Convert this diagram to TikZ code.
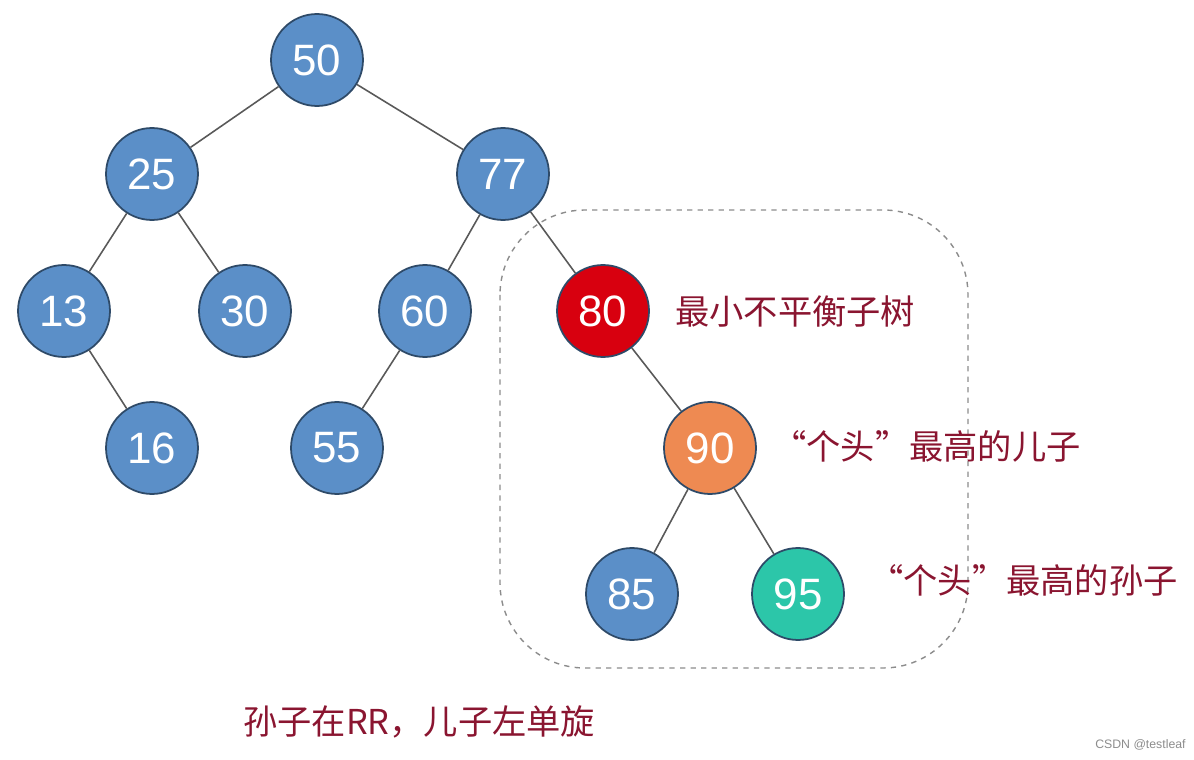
\documentclass[tikz,border=0pt]{standalone}
\usepackage{fontspec}
\setmainfont{Liberation Sans}
\newfontfamily\cjk{Noto Sans CJK SC}
\definecolor{nodeblue}{HTML}{5B8FC8}
\definecolor{nodeline}{HTML}{2E4A68}
\definecolor{nodered}{HTML}{D8000F}
\definecolor{nodeorange}{HTML}{EE8A52}
\definecolor{nodeteal}{HTML}{2CC6A9}
\definecolor{labelred}{HTML}{8A1530}
\begin{document}
\begin{tikzpicture}[
    x=0.02cm, y=-0.02cm,
    key/.style={circle, draw=nodeline, fill=nodeblue, line width=1pt, minimum size=1.84cm, inner sep=0pt, text=white, font=\fontsize{25}{30}\selectfont},
    unbal/.style={key, fill=nodered},
    son/.style={key, fill=nodeorange},
    grandson/.style={key, fill=nodeteal},
    edge/.style={draw=black!65, line width=0.9pt},
    note/.style={text=labelred, font=\cjk\fontsize{19.5}{24}\selectfont, anchor=west, inner sep=0pt}
]
    \useasboundingbox (0,0) rectangle (1194,760);
    \draw[black!45, dashed, line width=0.8pt, rounded corners=1.7cm] (500,210) rectangle (968,668);

    \node[key] (n50) at (317,60)  {50};
    \node[key] (n25) at (152,174) {25};
    \node[key] (n77) at (503,174) {77};
    \node[key] (n13) at (64,311)  {13};
    \node[key] (n30) at (245,311) {30};
    \node[key] (n60) at (425,311) {60};
    \node[unbal] (n80) at (603,311) {80};
    \node[key] (n16) at (152,448) {16};
    \node[key] (n55) at (337,448) {55};
    \node[son] (n90) at (710,448) {90};
    \node[key] (n85) at (632,594) {85};
    \node[grandson] (n95) at (798,594) {95};

    \draw[edge] (n50) -- (n25);
    \draw[edge] (n50) -- (n77);
    \draw[edge] (n25) -- (n13);
    \draw[edge] (n25) -- (n30);
    \draw[edge] (n77) -- (n60);
    \draw[edge] (n77) -- (n80);
    \draw[edge] (n13) -- (n16);
    \draw[edge] (n60) -- (n55);
    \draw[edge] (n80) -- (n90);
    \draw[edge] (n90) -- (n85);
    \draw[edge] (n90) -- (n95);

    \node[note] (lunbal) at (675,311) {最小不平衡子树};
    \node[note] (lson) at (772,446) {“个头”最高的儿子};
    \node[note] (lgrand) at (869,580) {“个头”最高的孙子};
    \node[note] (lrule) at (243,722) {孙子在RR，儿子左单旋};
    \node[text=black!45, font=\fontsize{7}{8}\selectfont, anchor=east, inner sep=0pt] (mark) at (1186,745) {CSDN @testleaf};
\end{tikzpicture}
\end{document}
